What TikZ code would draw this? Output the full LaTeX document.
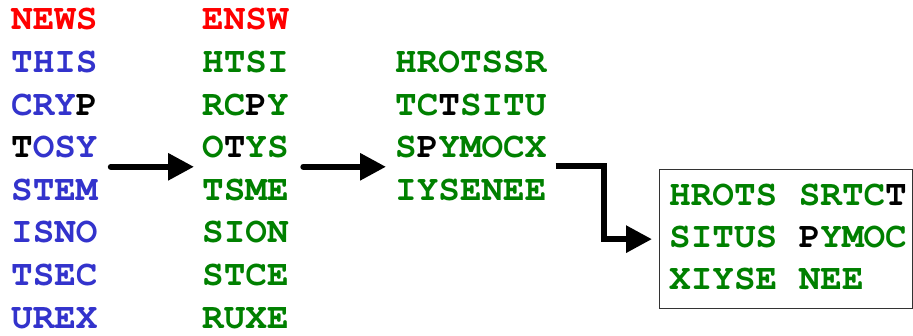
\documentclass[tikz,border=0pt]{standalone}
\usepackage[T1]{fontenc}
\usetikzlibrary{arrows.meta}
\definecolor{nred}{RGB}{255,0,0}
\definecolor{nblue}{RGB}{51,51,204}
\definecolor{ngreen}{RGB}{0,128,0}
\newcommand\bk[1]{\textcolor{black}{#1}}
\newcommand\courbold{\fontencoding{T1}\fontfamily{pcr}\fontseries{b}\fontsize{36}{36}\selectfont}
\begin{document}
\begin{tikzpicture}[x=1pt,y=-1pt,
  txt/.style={anchor=base west, inner sep=0pt, font=\courbold},
  arr/.style={line width=6pt, line cap=round, -{Triangle[length=26pt,width=26pt]}},
  ]
\useasboundingbox (0,0) rectangle (913,336);

% plaintext block
\node[txt, text=nred]  (c1r0) at (11,30)    {NEWS};
\node[txt, text=nblue] (c1r1) at (11,72.6)  {THIS};
\node[txt, text=nblue] (c1r2) at (11,115.2) {CRY\bk{P}};
\node[txt, text=nblue] (c1r3) at (11,157.8) {\bk{T}OSY};
\node[txt, text=nblue] (c1r4) at (11,200.4) {STEM};
\node[txt, text=nblue] (c1r5) at (11,243)   {ISNO};
\node[txt, text=nblue] (c1r6) at (11,285.6) {TSEC};
\node[txt, text=nblue] (c1r7) at (11,328.2) {UREX};

% columns permuted by the key
\node[txt, text=nred]   (c2r0) at (202,30)    {ENSW};
\node[txt, text=ngreen] (c2r1) at (202,72.6)  {HTSI};
\node[txt, text=ngreen] (c2r2) at (202,115.2) {RC\bk{P}Y};
\node[txt, text=ngreen] (c2r3) at (202,157.8) {O\bk{T}YS};
\node[txt, text=ngreen] (c2r4) at (202,200.4) {TSME};
\node[txt, text=ngreen] (c2r5) at (202,243)   {SION};
\node[txt, text=ngreen] (c2r6) at (202,285.6) {STCE};
\node[txt, text=ngreen] (c2r7) at (202,328.2) {RUXE};

% columns read out
\node[txt, text=ngreen] (c3r1) at (395,72.6)  {HROTSSR};
\node[txt, text=ngreen] (c3r2) at (395,115.2) {TC\bk{T}SITU};
\node[txt, text=ngreen] (c3r3) at (395,157.8) {S\bk{P}YMOCX};
\node[txt, text=ngreen] (c3r4) at (395,200.4) {IYSENEE};

% ciphertext box
\node[draw=black!80, line width=1.3pt, minimum width=253pt, minimum height=139pt,
      inner sep=0pt, anchor=north west] (box) at (659,169) {};
\node[txt, text=ngreen] (b1) at (669,206) {HROTS SRTC\bk{T}};
\node[txt, text=ngreen] (b2) at (669,248) {SITUS \bk{P}YMOC};
\node[txt, text=ngreen] (b3) at (669,290) {XIYSE NEE};

% arrows
\draw[arr] ([shift={(13pt,-9pt)}]c1r3.base east) -- ([shift={(-8pt,-9pt)}]c2r3.base west);
\draw[arr] ([shift={(14.5pt,-9pt)}]c2r3.base east) -- ([shift={(-9pt,-9pt)}]c3r3.base west);
\draw[arr, line cap=butt] ([shift={(9pt,-8.5pt)}]c3r3.base east) -- ++(48,0) |- ([xshift=-7pt]box.west);
\end{tikzpicture}
\end{document}
